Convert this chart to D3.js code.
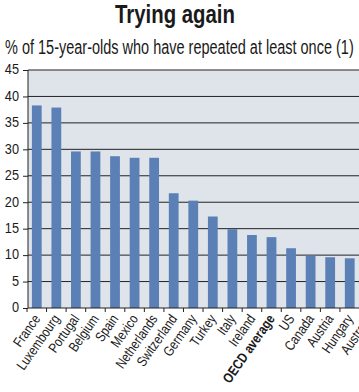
<!DOCTYPE html>
<html>
<head>
<meta charset="utf-8">
<script src="https://cdn.jsdelivr.net/npm/d3@7"></script>
<style>
  body { margin: 0; background: #fff; }
  svg text { font-family: "Liberation Sans", Arial, sans-serif; fill: #1a1a1a; }
</style>
</head>
<body>
<script>
// Data (Australia is cut by the right edge)
var countries = ["France", "Luxembourg", "Portugal", "Belgium", "Spain", "Mexico", "Netherlands",
  "Switzerland", "Germany", "Turkey", "Italy", "Ireland", "OECD average", "US", "Canada",
  "Austria", "Hungary", "Australia"];
var repeated = [38.3, 37.9, 29.6, 29.6, 28.7, 28.4, 28.4, 21.7, 20.3, 17.3, 14.9, 13.8, 13.4,
  11.3, 9.9, 9.6, 9.4, 9.2];
var yTicks = [0, 5, 10, 15, 20, 25, 30, 35, 40, 45];

var W = 359, H = 392;
var plot = {left: 28, top: 70, bottom: 308};
var narrow = 0.82; // squeeze Liberation Sans to look like a condensed face

var svg = d3.select("body").append("svg")
    .attr("width", W)
    .attr("height", H);

// scales: the band range runs past the right edge, like the original crop
var xScale = d3.scaleBand()
    .domain(countries)
    .range([27, 27 + countries.length * 19.56])
    .paddingInner(0.5)
    .paddingOuter(0.25);

var yScale = d3.scaleLinear()
    .domain([0, 45])
    .range([plot.bottom, plot.top]);

// plot background
svg.append("rect")
    .attr("x", plot.left)
    .attr("y", plot.top)
    .attr("width", W - plot.left)
    .attr("height", plot.bottom - plot.top)
    .attr("fill", "#dfe4ea");

// horizontal grid lines
svg.append("g").selectAll("line")
    .data(yTicks.slice(1))
    .join("line")
    .attr("x1", plot.left)
    .attr("x2", W)
    .attr("y1", function(d) { return yScale(d); })
    .attr("y2", function(d) { return yScale(d); })
    .attr("stroke", "#222")
    .attr("stroke-width", 1);

// bars
svg.append("g").selectAll("rect")
    .data(repeated)
    .join("rect")
    .attr("x", function(d, i) { return xScale(countries[i]); })
    .attr("width", xScale.bandwidth())
    .attr("y", function(d) { return yScale(d); })
    .attr("height", function(d) { return yScale(0) - yScale(d); })
    .attr("fill", "#5b80b6");

// y axis
var yAxis = svg.append("g")
    .attr("transform", "translate(" + plot.left + ",0)")
    .call(d3.axisLeft(yScale).tickValues(yTicks).tickSize(5).tickPadding(4));
yAxis.selectAll("text")
    .attr("x", 0)
    .attr("transform", "translate(-9,-1) scale(0.85,1)")
    .style("font-size", "15px");
yAxis.selectAll("line, path").attr("stroke", "#222");
yAxis.select(".domain").attr("d", "M0," + plot.top + "V" + plot.bottom);

// x axis line
svg.append("line")
    .attr("x1", plot.left)
    .attr("x2", W)
    .attr("y1", plot.bottom)
    .attr("y2", plot.bottom)
    .attr("stroke", "#222");

// x ticks sit between the bars
var step = xScale.step();
svg.append("g").selectAll("line")
    .data(countries)
    .join("line")
    .attr("x1", function(d) { return xScale(d) - step * 0.25; })
    .attr("x2", function(d) { return xScale(d) - step * 0.25; })
    .attr("y1", plot.bottom)
    .attr("y2", plot.bottom + 4)
    .attr("stroke", "#222");

// rotated country labels
svg.append("g").selectAll("text")
    .data(countries)
    .join("text")
    .attr("transform", function(d) {
      return "translate(" + (xScale(d) + xScale.bandwidth() / 2) + "," + (plot.bottom + 8) + ") rotate(-55) scale(" + narrow + ",1)";
    })
    .attr("dy", "0.35em")
    .attr("text-anchor", "end")
    .style("font-size", "14px")
    .style("font-weight", function(d) { return d == "OECD average" ? "bold" : "normal"; })
    .text(function(d) { return d; });

// title and subtitle, squeezed to the widths seen in the picture
function fitText(x, y, width, size, weight, label) {
  var t = svg.append("text")
      .style("font-size", size + "px")
      .style("font-weight", weight)
      .text(label);
  var k = width / t.node().getComputedTextLength();
  t.attr("transform", "translate(" + x + "," + y + ") scale(" + k + ",1)");
  return t;
}
fitText(115, 23, 120, 26, "bold", "Trying again");
fitText(5, 54, 349, 20, "normal", "% of 15-year-olds who have repeated at least once (1)");
</script>
</body>
</html>
